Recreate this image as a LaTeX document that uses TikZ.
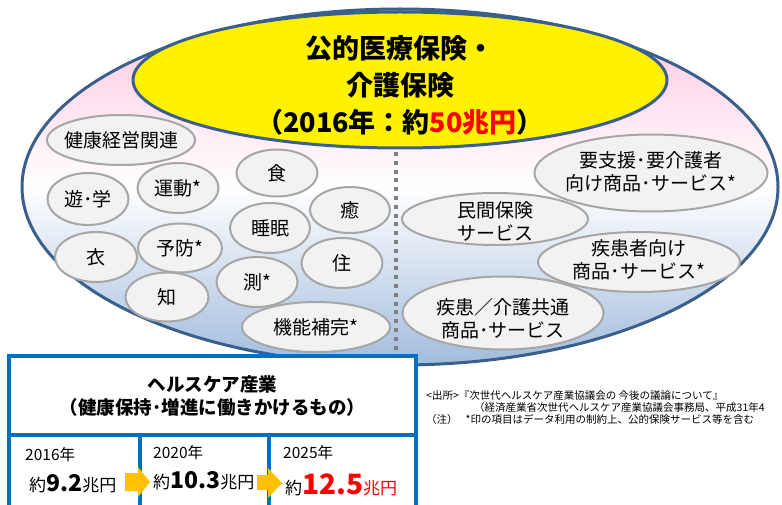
\documentclass[tikz,border=0pt]{standalone}
\usepackage{fontspec}
\setmainfont{Noto Sans CJK JP}
\usetikzlibrary{shapes.geometric}
\definecolor{edgeblue}{HTML}{3A5F8C}
\definecolor{pinktop}{HTML}{FFC2DF}
\definecolor{bluebot}{HTML}{A2BCDD}
\definecolor{bubfill}{HTML}{F2F2F2}
\definecolor{bubline}{HTML}{A6A6A6}
\definecolor{boxblue}{HTML}{0070C0}
\definecolor{arrorange}{HTML}{FFC000}
\definecolor{dotgray}{HTML}{808080}
\definecolor{redtxt}{HTML}{FF0000}
\begin{document}
\begin{tikzpicture}[x=1pt,y=-1pt,
  bub/.style={ellipse, draw=bubline, fill=bubfill, line width=2pt, inner sep=0pt},
  btxt/.style={font=\fontsize{19}{23}\selectfont, align=center, inner sep=0pt},
  cellbox/.style={rectangle, draw=boxblue, line width=4pt, fill=white, inner sep=0pt},
  yeartxt/.style={font=\fontsize{15.5}{18}\selectfont, anchor=west, inner sep=0pt},
  valtxt/.style={font=\fontsize{17}{20}\selectfont, anchor=west, inner sep=0pt},
  blockarrow/.style={fill=arrorange, draw=none},
  notetxt/.style={font=\fontsize{10.5}{12}\selectfont, anchor=west, inner sep=0pt}]
\useasboundingbox (0,0) rectangle (782,505);

% outer ellipse
\node[ellipse, minimum width=756pt, minimum height=356pt, inner sep=0pt,
      top color=pinktop, bottom color=bluebot, middle color=white,
      draw=edgeblue, line width=3pt] (outer) at (400,187) {};

% dotted divider
\coordinate (dtop) at (396,152);
\coordinate (dbot) at (396,358);
\draw[dotgray, line width=3.5pt, dash pattern=on 4pt off 4.8pt] (dtop) -- (dbot);

% yellow ellipse
\node[ellipse, minimum width=534pt, minimum height=136pt, inner sep=0pt,
      fill=yellow, draw=edgeblue, line width=3pt] (pub) at (400,80) {};
\node[font=\fontsize{27}{37}\selectfont\bfseries, align=center, inner sep=0pt] (pubt) at (400,85)
  {公的医療保険・\\介護保険\\（2016年：約\textcolor{redtxt}{50兆円}）};

% left bubbles
\node[bub, minimum width=148pt, minimum height=50pt] (b1) at (121,140) {};
\node[btxt] (t1) at (b1.center) {健康経営関連};
\node[bub, minimum width=81pt, minimum height=50pt] (b2) at (178,188) {};
\node[btxt] (t2) at (b2.center) {運動*};
\node[bub, minimum width=81pt, minimum height=47pt] (b3) at (277,173) {};
\node[btxt] (t3) at (b3.center) {食};
\node[bub, minimum width=81pt, minimum height=52pt] (b4) at (88,199) {};
\node[btxt] (t4) at (b4.center) {遊･学};
\node[bub, minimum width=80pt, minimum height=46pt] (b5) at (350,210) {};
\node[btxt] (t5) at (b5.center) {癒};
\node[bub, minimum width=80pt, minimum height=50pt] (b6) at (270,228) {};
\node[btxt] (t6) at (b6.center) {睡眠};
\node[bub, minimum width=84pt, minimum height=49pt] (b7) at (180,248) {};
\node[btxt] (t7) at (b7.center) {予防*};
\node[bub, minimum width=82pt, minimum height=50pt] (b8) at (96,257) {};
\node[btxt] (t8) at (b8.center) {衣};
\node[bub, minimum width=81pt, minimum height=50pt] (b9) at (342,263) {};
\node[btxt] (t9) at (b9.center) {住};
\node[bub, minimum width=81pt, minimum height=50pt] (b10) at (257,282) {};
\node[btxt] (t10) at (b10.center) {測*};
\node[bub, minimum width=83pt, minimum height=49pt] (b11) at (167,297) {};
\node[btxt] (t11) at (b11.center) {知};
\node[bub, minimum width=148pt, minimum height=50pt] (b12) at (316,327) {};
\node[btxt] (t12) at (b12.center) {機能補完*};

% right bubbles
\node[bub, minimum width=233pt, minimum height=77pt] (r1) at (651,173) {};
\node[btxt] (rt1) at (651,172) {要支援･要介護者\\向け商品･サービス*};
\node[bub, minimum width=186pt, minimum height=52pt] (r2) at (495,219) {};
\node[btxt] (rt2) at (495,221) {民間保険\\サービス};
\node[bub, minimum width=202pt, minimum height=60pt] (r3) at (639,262) {};
\node[btxt] (rt3) at (639,260) {疾患者向け\\商品･サービス*};
\node[bub, minimum width=201pt, minimum height=73pt] (r4) at (503,313) {};
\node[btxt] (rt4) at (503,319) {疾患／介護共通\\商品･サービス};

% bottom table
\node[cellbox, minimum width=407pt, minimum height=79pt] (hdr) at (212.5,395.5) {};
\node[font=\fontsize{18.5}{23}\selectfont\bfseries, align=center, inner sep=0pt] (hdrt) at (212.5,396)
  {ヘルスケア産業\\（健康保持･増進に働きかけるもの）};
\node[cellbox, minimum width=131pt, minimum height=80pt] (c1) at (74.5,475) {};
\node[cellbox, minimum width=128.5pt, minimum height=80pt] (c2) at (204.25,475) {};
\node[cellbox, minimum width=147.5pt, minimum height=80pt] (c3) at (342.25,475) {};

\node[yeartxt] (y1) at (25,455) {2016年};
\node[valtxt] (v1) at (29,484) {約{\bfseries\fontsize{23}{23}\selectfont 9.2}兆円};
\node[yeartxt] (y2) at (153,453) {2020年};
\node[valtxt] (v2) at (153,481) {約{\bfseries\fontsize{23}{23}\selectfont 10.3}兆円};
\node[yeartxt] (y3) at (283,453) {2025年};
\node[valtxt] (v3) at (285,485) {約\textcolor{redtxt}{{\bfseries\fontsize{28}{28}\selectfont 12.5}兆円}};

% orange arrows
\coordinate (a1) at (125,480.5);
\coordinate (a2) at (257,482.5);
\fill[blockarrow] (a1) ++(0,-7.5) -- ++(13,0) -- ++(0,-6) -- ++(12,15) -- ++(-12,15) -- ++(0,-6) -- ++(-13,0) -- cycle;
\fill[blockarrow] (a2) ++(0,-7.5) -- ++(11,0) -- ++(0,-7) -- ++(14,15) -- ++(-14,15) -- ++(0,-8) -- ++(-11,0) -- cycle;

% notes
\node[notetxt] (n1) at (426,396) {<出所>『次世代ヘルスケア産業協議会の 今後の議論について』};
\node[notetxt] (n2) at (474,408) {（経済産業省次世代ヘルスケア産業協議会事務局、平成31年4};
\node[notetxt] (n3) at (426,420) {（注）\hspace{8pt}*印の項目はデータ利用の制約上、公的保険サービス等を含む};
\end{tikzpicture}
\end{document}
